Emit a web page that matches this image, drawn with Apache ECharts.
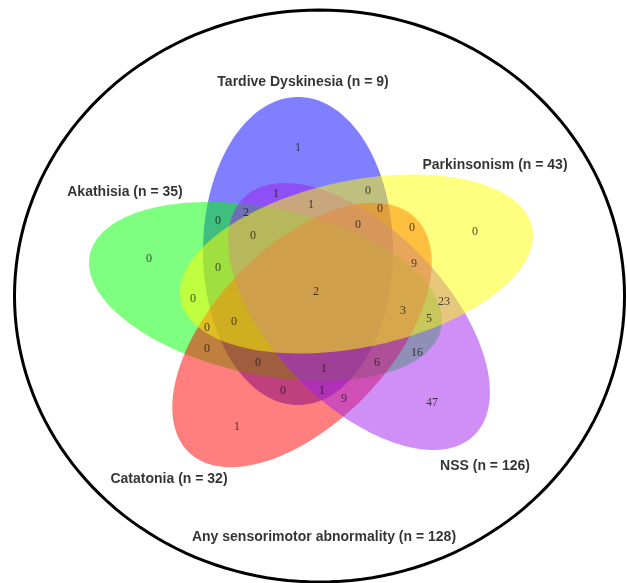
<!DOCTYPE html>
<html>
<head>
<meta charset="utf-8">
<script src="https://cdn.jsdelivr.net/npm/echarts@6/dist/echarts.min.js"></script>
<style>
  html, body { margin: 0; padding: 0; background: #ffffff; }
  #chart { width: 627px; height: 583px; }
</style>
</head>
<body>
<div id="chart"></div>
<script>
// Sets (in drawing order) and their sizes
const setNames = ['Tardive Dyskinesia', 'Akathisia', 'Catatonia', 'NSS', 'Parkinsonism'];
const setTotals = [9, 35, 32, 126, 43];
const universeName = 'Any sensorimotor abnormality';
const universeTotal = 128;

// Counts of patients in each region of the diagram
const regionCounts = [
  1, 0, 0, 1, 47,
  2,
  1, 0, 1, 2, 0, 0, 0, 0, 0, 0, 9,
  0, 0, 0, 0, 3, 23, 5, 16,
  0, 1, 6, 0, 1, 9
];

// ---- layout (drawing space: 627 x 583, y downwards) ----
// ellipse geometry per set: centre x, centre y, semi-major, semi-minor, tilt of the major axis (deg)
const setShapes = [
  [298, 251, 154, 95, 90],
  [265.5, 291.5, 179.5, 83.4, 11.8],
  [302, 335, 163, 88, -46],
  [359, 316.5, 165.5, 87, 46],
  [356.5, 264, 179.5, 83.4, -11.8]
];
const setColors = [
  'rgba(0,0,255,0.5)',
  'rgba(0,255,0,0.5)',
  'rgba(255,0,0,0.5)',
  'rgba(160,32,240,0.5)',
  'rgba(255,255,0,0.5)'
];
const setLabelAnchors = [[303, 82], [125, 192], [169, 479], [485, 466], [495, 165]];
const universeShape = [319.5, 296, 305, 286, 0];
const universeLabelAnchor = [324, 537];
const regionAnchors = [
  [298, 148], [475, 232], [149, 259], [237, 427], [432, 403],
  [316, 292],
  [276, 194], [368, 191], [311, 205], [246, 213], [380, 209], [218, 221], [358, 225], [412, 228], [253, 236], [218, 268], [414, 264],
  [193, 299], [207, 328], [234, 322], [207, 349], [403, 311], [444, 302], [429, 319], [417, 353],
  [258, 363], [324, 369], [377, 363], [283, 391], [322, 391], [344, 399]
];

function ellipsePoints(shape, api) {
  const [cx, cy, a, b, deg] = shape;
  const t = deg * Math.PI / 180;
  const pts = [];
  for (let k = 0; k < 180; k++) {
    const s = k / 180 * Math.PI * 2;
    const u = a * Math.cos(s), v = b * Math.sin(s);
    const x = cx + u * Math.cos(t) - v * Math.sin(t);
    const y = cy + u * Math.sin(t) + v * Math.cos(t);
    pts.push(api.coord([x, y]));
  }
  return pts;
}

const chart = echarts.init(document.getElementById('chart'), null, { renderer: 'canvas' });

chart.setOption({
  backgroundColor: '#ffffff',
  animation: false,
  grid: { left: 0, right: 0, top: 0, bottom: 0 },
  xAxis: { type: 'value', min: 0, max: 627, show: false },
  yAxis: { type: 'value', min: 0, max: 583, inverse: true, show: false },
  series: [
    {
      // outer boundary: every patient with any sensorimotor abnormality
      type: 'custom',
      z: 1,
      data: [[universeTotal]],
      renderItem: function (params, api) {
        return {
          type: 'polygon',
          shape: { points: ellipsePoints(universeShape, api) },
          style: { fill: 'none', stroke: '#000000', lineWidth: 3 }
        };
      }
    },
    {
      type: 'custom',
      z: 2,
      data: setTotals.map((v, i) => ({ name: setNames[i], value: [v] })),
      renderItem: function (params, api) {
        const i = params.dataIndex;
        return {
          type: 'polygon',
          shape: { points: ellipsePoints(setShapes[i], api) },
          style: { fill: setColors[i], stroke: 'none' }
        };
      }
    },
    {
      // region counts
      type: 'scatter',
      z: 3,
      symbolSize: 0,
      data: regionCounts.map((c, i) => [regionAnchors[i][0], regionAnchors[i][1], c]),
      label: {
        show: true,
        position: 'inside',
        formatter: p => String(p.value[2]),
        fontFamily: 'Liberation Serif',
        fontSize: 12,
        color: '#1a1a1a'
      }
    },
    {
      // set titles
      type: 'scatter',
      z: 4,
      symbolSize: 0,
      data: setNames.map((n, i) => ({
        name: n + ' (n = ' + setTotals[i] + ')',
        value: setLabelAnchors[i]
      })).concat([{
        name: universeName + ' (n = ' + universeTotal + ')',
        value: universeLabelAnchor
      }]),
      label: {
        show: true,
        position: 'inside',
        formatter: p => p.name,
        fontFamily: 'Liberation Sans',
        fontWeight: 'bold',
        fontSize: 14,
        color: '#000000'
      }
    }
  ]
});
</script>
</body>
</html>
